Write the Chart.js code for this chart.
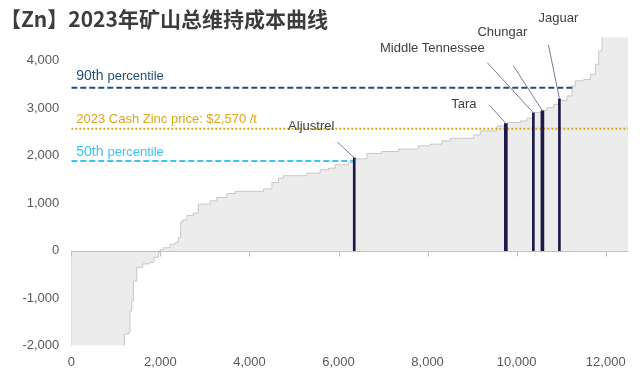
<!DOCTYPE html>
<html>
<head>
<meta charset="utf-8">
<script src="https://cdn.jsdelivr.net/npm/chart.js@4.4.0/dist/chart.umd.min.js"></script>
<style>
  html, body { margin: 0; padding: 0; background: #fff; }
  #wrap { width: 640px; height: 385px; }
</style>
</head>
<body>
<div id="wrap"><canvas id="cost-curve"></canvas></div>
<script>
// cumulative zinc production (kt) where each cost step starts, and its cost ($/t)
const capStart = [0, 0, 1191, 1281, 1319, 1357, 1393, 1470, 1604, 1769, 1858, 1955, 1993, 2067, 2218, 2330,
  2404, 2458, 2500, 2593, 2735, 2854, 3117, 3267, 3492, 3679, 4315, 4503, 4652, 4764, 5290, 5589, 5775,
  5926, 6225, 6337, 6638, 6975, 7348, 7798, 8061, 8324, 8510, 9034, 9184, 9560, 9724, 9791, 10083, 10234,
  10353, 10555, 10683, 10831, 10937, 11133, 11245, 11319, 11506, 11657, 11769, 11843, 11919, 12500];
const stepCost = [0, -2300, -1760, -1720, -1270, -1060, -640, -350, -280, -245, -140, -40, 20, 60, 135, 170,
  280, 600, 650, 740, 790, 980, 1050, 1120, 1205, 1250, 1300, 1435, 1530, 1580, 1635, 1705, 1740,
  1810, 1860, 1935, 2050, 2090, 2140, 2210, 2245, 2315, 2370, 2440, 2525, 2630, 2680, 2700, 2735, 2795,
  2910, 2960, 3015, 3085, 3170, 3260, 3470, 3580, 3610, 3715, 3930, 4210, 4800, 4800];

// highlighted mines
const mineNames = ["Aljustrel", "Tara", "Middle Tennessee", "Chungar", "Jaguar"];
const mineX = [6353, 9757, 10375, 10578, 10960];
const mineCost = [1956, 2681, 2907, 2949, 3203];

// reference lines
const p90 = 3435, p90End = 11260;
const p50 = 1892, p50End = 6353;
const zincPrice = 2570;

const xTicks = [0, 2000, 4000, 6000, 8000, 10000, 12000];
const yTicks = [-2000, -1000, 0, 1000, 2000, 3000, 4000];

const fmt = v => v.toLocaleString("en-US");
const FONT = "'Liberation Sans', Arial, sans-serif";

// bar width per mine (px) and label placement relative to each bar top (px)
const mineBarWidth = [2, 3, 2, 3, 2];
const mineLabelPos = [
  { sx: -17, sy: -16, lx: -43, ly: -31 },
  { sx: -16, sy: -18, lx: -42, ly: -19 },
  { sx: -46, sy: -50, lx: -101, ly: -64 },
  { sx: -29, sy: -45, lx: -40, ly: -78 },
  { sx: -11, sy: -54, lx: -1, ly: -80 }
];

const overlay = {
  id: "overlay",
  afterDatasetsDraw(chart) {
    const { ctx, scales: { x, y }, chartArea } = chart;
    ctx.save();
    // zero line + tick marks
    const y0 = Math.round(y.getPixelForValue(0)) + 0.5;
    ctx.strokeStyle = "#bfbfbf";
    ctx.lineWidth = 1;
    ctx.beginPath();
    ctx.moveTo(chartArea.left, y0);
    ctx.lineTo(chartArea.right, y0);
    xTicks.forEach(v => {
      const px = Math.round(x.getPixelForValue(v)) + 0.5;
      ctx.moveTo(px, y0);
      ctx.lineTo(px, y0 + 5);
    });
    ctx.stroke();

    // reference line labels
    const left = chartArea.left + 5;
    ctx.textBaseline = "alphabetic";
    ctx.textAlign = "left";
    let yy = y.getPixelForValue(p90) - 8;
    ctx.fillStyle = "#1f4e79";
    ctx.font = "14px " + FONT;
    ctx.fillText("90th", left, yy);
    let w = ctx.measureText("90th ").width;
    ctx.font = "13px " + FONT;
    ctx.fillText("percentile", left + w, yy);

    yy = y.getPixelForValue(zincPrice) - 6;
    ctx.fillStyle = "#dca51a";
    ctx.font = "13px " + FONT;
    ctx.fillText("2023 Cash Zinc price: $2,570 /t", left, yy);

    yy = y.getPixelForValue(p50) - 5;
    ctx.fillStyle = "#3cc3f5";
    ctx.font = "14px " + FONT;
    ctx.fillText("50th", left, yy);
    w = ctx.measureText("50th ").width;
    ctx.font = "13px " + FONT;
    ctx.fillText("percentile", left + w, yy);

    // mine labels with leader lines
    ctx.font = "13px " + FONT;
    ctx.textAlign = "center";
    ctx.textBaseline = "middle";
    mineNames.forEach((name, i) => {
      const bx = x.getPixelForValue(mineX[i]);
      const by = y.getPixelForValue(mineCost[i]);
      const p = mineLabelPos[i];
      ctx.strokeStyle = "#7c7a98";
      ctx.lineWidth = 1;
      ctx.beginPath();
      ctx.moveTo(bx + p.sx, by + p.sy);
      ctx.lineTo(bx, by);
      ctx.stroke();
      ctx.fillStyle = "#404040";
      ctx.fillText(name, bx + p.lx, by + p.ly);
    });
    ctx.restore();
  }
};

const curve = capStart.map((v, i) => ({ x: v, y: stepCost[i] }));
const thinMines = [], thickMines = [];
mineX.forEach((v, i) => {
  (mineBarWidth[i] === 3 ? thickMines : thinMines).push({ x: v, y: mineCost[i] });
});

new Chart(document.getElementById("cost-curve"), {
  type: "line",
  data: {
    datasets: [
      {
        type: "bar",
        data: thinMines,
        backgroundColor: "#1d1a4b",
        barThickness: 2,
        grouped: false,
        order: 0
      },
      {
        type: "bar",
        data: thickMines,
        backgroundColor: "#1d1a4b",
        barThickness: 3,
        grouped: false,
        order: 0
      },
      {
        data: [{ x: 0, y: p90 }, { x: p90End, y: p90 }],
        borderColor: "#1f4e79",
        borderWidth: 2,
        borderDash: [6, 3],
        pointRadius: 0,
        order: 1
      },
      {
        data: [{ x: 0, y: p50 }, { x: p50End, y: p50 }],
        borderColor: "#3cc3f5",
        borderWidth: 2,
        borderDash: [6, 3],
        pointRadius: 0,
        order: 1
      },
      {
        data: [{ x: 0, y: zincPrice }, { x: 12500, y: zincPrice }],
        borderColor: "#dca51a",
        borderWidth: 2,
        borderDash: [2, 2],
        pointRadius: 0,
        order: 1
      },
      {
        data: curve,
        stepped: true,
        fill: "origin",
        backgroundColor: "#ececec",
        borderColor: "#c8c8c8",
        borderWidth: 1,
        pointRadius: 0,
        order: 2
      }
    ]
  },
  options: {
    responsive: true,
    maintainAspectRatio: false,
    animation: false,
    layout: { padding: { left: 0, right: 12, top: 0, bottom: 0 } },
    plugins: {
      legend: { display: false },
      tooltip: { enabled: false },
      title: {
        display: true,
        text: "【Zn】2023年矿山总维持成本曲线",
        align: "start",
        color: "#3c3c3c",
        font: { size: 21, weight: "bold", family: "'Noto Sans CJK SC', 'Liberation Sans', sans-serif" },
        padding: { top: 6, bottom: 6 }
      }
    },
    scales: {
      x: {
        type: "linear",
        min: 0,
        max: 12500,
        offset: false,
        afterBuildTicks: s => { s.ticks = xTicks.map(v => ({ value: v })); },
        afterFit: s => { s.height = 39.5; },
        ticks: { color: "#595959", padding: 9, font: { size: 13, family: FONT }, callback: v => fmt(v), maxRotation: 0 },
        grid: { display: false, drawTicks: false },
        border: { display: false }
      },
      y: {
        type: "linear",
        min: -2000,
        max: 4500,
        afterBuildTicks: s => { s.ticks = yTicks.map(v => ({ value: v })); },
        afterFit: s => { s.width = 71.3; },
        ticks: { color: "#595959", padding: 12, font: { size: 13, family: FONT }, callback: v => fmt(v) },
        grid: { display: false, drawTicks: false },
        border: { display: false }
      }
    }
  },
  plugins: [overlay]
});
</script>
</body>
</html>
